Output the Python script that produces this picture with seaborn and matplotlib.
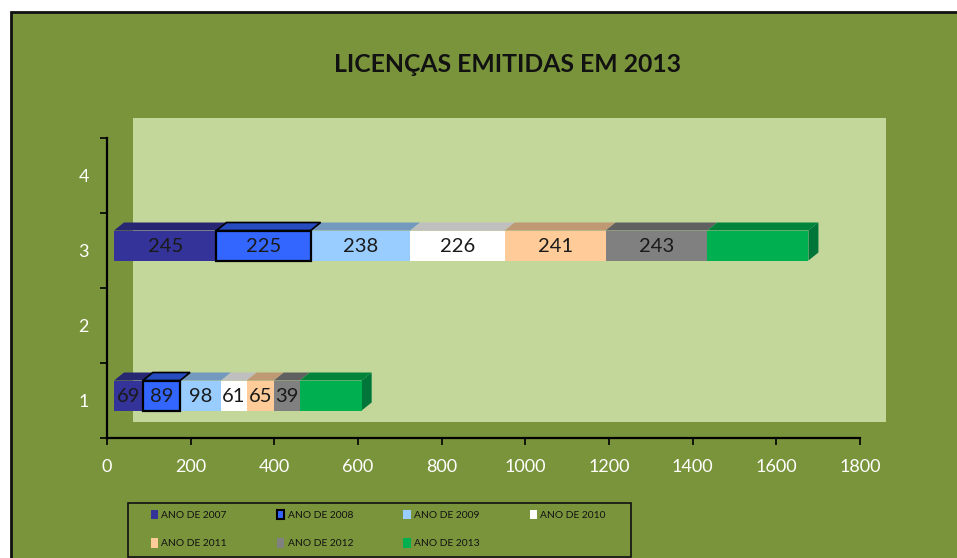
import numpy as np
import matplotlib
matplotlib.use("Agg")
import matplotlib.pyplot as plt
from matplotlib.patches import Polygon, Rectangle, Patch
from matplotlib.transforms import IdentityTransform, offset_copy
import seaborn as sns

# values
series = ["ANO DE 2007", "ANO DE 2008", "ANO DE 2009", "ANO DE 2010",
          "ANO DE 2011", "ANO DE 2012", "ANO DE 2013"]
categories = ["4", "3", "2", "1"]
widths_3 = [245, 225, 238, 226, 241, 243, 242]
widths_1 = [69, 89, 98, 61, 65, 62, 148]
labels_3 = ["245", "225", "238", "226", "241", "243", ""]
labels_1 = ["69", "89", "98", "61", "65", "39", ""]
xticks = [0, 200, 400, 600, 800, 1000, 1200, 1400, 1600, 1800]

front = ["#333399", "#3366FF", "#99CCFF", "#FFFFFF", "#FFCC99", "#808080", "#00B050"]
top = ["#262673", "#264CBF", "#7399BF", "#BFBFBF", "#BF9973", "#606060", "#00843C"]
side_green = "#00753A"
BG = "#7A943C"
WALL = "#C4D79B"

W, H = 957, 558
DX, DY = 10, 8      # depth of the fake 3D bars, px
OFF_X, OFF_Y = 7, 5  # front face offset from the axes, px

sns.set_theme(style="white")
plt.rcParams["font.family"] = ["Lato", "DejaVu Sans"]

fig = plt.figure(figsize=(W / 100, H / 100), dpi=100, facecolor="white")


def fx(x):
    return x / W


def fy(y):
    return 1 - y / H


fig.add_artist(Rectangle((fx(11), fy(600)), fx(1000), fy(12) - fy(600), facecolor=BG,
                         edgecolor="#111111", lw=2, transform=fig.transFigure, zorder=-3))
fig.add_artist(Rectangle((fx(133), fy(422)), fx(886 - 133), fy(118) - fy(422),
                         facecolor=WALL, edgecolor="none", transform=fig.transFigure, zorder=-2))
fig.add_artist(Rectangle((fx(128), fy(557)), fx(631 - 128), fy(503) - fy(557),
                         facecolor="none", edgecolor="#111111", lw=1.2,
                         transform=fig.transFigure, zorder=-1))

ax = fig.add_axes([fx(107), fy(438), fx(860 - 107), fy(138) - fy(438)])
ax.patch.set_alpha(0)

shift = offset_copy(ax.transData, fig=fig, x=OFF_X, y=OFF_Y, units="dots")
faces = []
for cat, widths, labels in [("3", widths_3, labels_3), ("1", widths_1, labels_1)]:
    left = 0
    for i, (w, lab) in enumerate(zip(widths, labels)):
        sns.barplot(x=[w], y=[cat], order=categories, orient="h", left=left, width=0.4,
                    color=front[i], saturation=1, ax=ax, zorder=4 if i == 1 else 3)
        bar = ax.containers[-1].patches[-1]
        bar.set_transform(shift)
        bar.set_clip_on(False)
        if i == 1:
            bar.set_edgecolor("black")
            bar.set_linewidth(1.6)
        else:
            bar.set_edgecolor("none")
        faces.append((bar, i))
        ax.text(left + w / 2, bar.get_y() + bar.get_height() / 2, lab, transform=shift,
                ha="center", va="center_baseline", fontsize=14.5, color="#1a1a1a", zorder=6)
        left += w

ax.set_xlim(0, 1800)
ax.set_ylim(3.5, -0.5)
fig.canvas.draw()

# top and side faces, worked out from the drawn bars
for bar, i in faces:
    (x0, y0), (x1, y1) = shift.transform([(bar.get_x(), bar.get_y() + bar.get_height()),
                                          (bar.get_x() + bar.get_width(), bar.get_y())])
    ylo, yhi = min(y0, y1), max(y0, y1)
    pts = [(x0, yhi), (x1, yhi), (x1 + DX, yhi + DY), (x0 + DX, yhi + DY)]
    kw = dict(edgecolor="black", lw=1.2) if i == 1 else dict(edgecolor="none")
    ax.add_patch(Polygon(pts, closed=True, facecolor=top[i], transform=IdentityTransform(),
                         clip_on=False, zorder=4 if i == 1 else 2, **kw))
    if i == len(series) - 1:
        pts = [(x1, ylo), (x1 + DX, ylo + DY), (x1 + DX, yhi + DY), (x1, yhi)]
        ax.add_patch(Polygon(pts, closed=True, facecolor=side_green, edgecolor="none",
                             transform=IdentityTransform(), clip_on=False, zorder=2))

ax.set_xlim(0, 1800)
ax.set_ylim(3.5, -0.5)
ax.set_xlabel("")
ax.set_ylabel("")
ax.set_xticks(xticks)
ax.set_yticks(range(len(categories)), categories)
ax.set_yticks(np.arange(-0.5, 4), minor=True)
ax.tick_params(axis="y", which="major", length=0, pad=13, labelsize=13, colors="white")
ax.tick_params(axis="y", which="minor", left=True, length=5, width=1.2, color="black")
ax.tick_params(axis="x", bottom=True, length=5, width=1.2, color="black", pad=10,
               labelsize=13, labelcolor="white")
sns.despine(ax=ax)
for s in ["left", "bottom"]:
    ax.spines[s].set_color("black")
    ax.spines[s].set_linewidth(1.6)

fig.text(fx(507), fy(64), "LICENÇAS EMITIDAS EM 2013", ha="center", va="center",
         fontsize=17.8, fontweight="bold", color="#111111")

handles = [Patch(facecolor=front[i], edgecolor="black" if i == 1 else "none",
                 lw=1.5 if i == 1 else 0, label=series[i]) for i in range(len(series))]
# legend fills by column, the reference reads by row
order = [0, 4, 1, 5, 2, 6, 3]
leg = fig.legend([handles[i] for i in order], [series[i] for i in order], ncol=4,
                 loc="center left", bbox_to_anchor=(fx(151), fy(529)), frameon=False,
                 fontsize=7.4, labelcolor="#111111", handlelength=0.7, handleheight=1.1,
                 handletextpad=0.3, columnspacing=4.9, labelspacing=1.75,
                 borderpad=0, borderaxespad=0)

fig.savefig("out.png", dpi=100)
